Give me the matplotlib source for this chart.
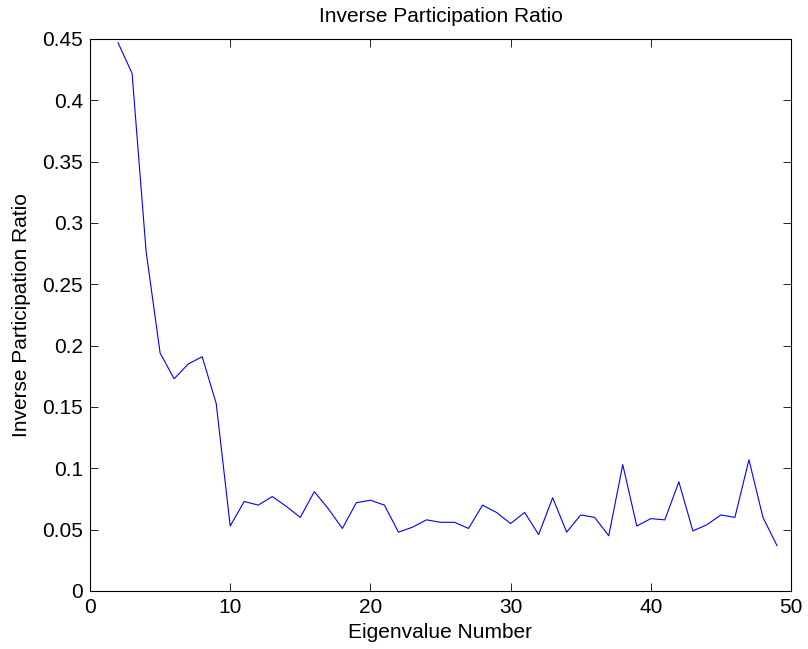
import numpy as np
from matplotlib import pyplot as plt

plt.rcParams['font.family'] = ['Liberation Sans', 'DejaVu Sans']

eig_num = list(range(2, 50))
ipr = [0.447, 0.422, 0.277, 0.194, 0.173, 0.185, 0.191, 0.153, 0.053, 0.073,
       0.070, 0.077, 0.069, 0.060, 0.081, 0.067, 0.051, 0.072, 0.074, 0.070,
       0.048, 0.052, 0.058, 0.056, 0.056, 0.051, 0.070, 0.064, 0.055, 0.064,
       0.046, 0.076, 0.048, 0.062, 0.060, 0.045, 0.103, 0.053, 0.059, 0.058,
       0.089, 0.049, 0.054, 0.062, 0.060, 0.107, 0.060, 0.037]

fig = plt.figure(figsize=(8.08, 6.49), dpi=100)
ax = fig.add_axes([90 / 808, 1 - 591 / 649, 701 / 808, 552 / 649])
ax.plot(eig_num, ipr, color='blue', linewidth=0.8)

ax.set_xlim(0, 50)
ax.set_ylim(0, 0.45)
ax.set_xticks([0, 10, 20, 30, 40, 50])
ax.set_yticks(np.arange(0, 0.451, 0.05))
ax.set_yticklabels(['0', '0.05', '0.1', '0.15', '0.2', '0.25', '0.3', '0.35', '0.4', '0.45'])
ax.tick_params(direction='in', length=6, labelsize=15, top=True, right=True, width=0.6, pad=5)
for s in ax.spines.values():
    s.set_linewidth(0.8)

ax.set_xlabel('Eigenvalue Number', fontsize=15, labelpad=4)
ax.set_ylabel('Inverse Participation Ratio', fontsize=15, labelpad=8)
ax.set_title('Inverse Participation Ratio', fontsize=15, pad=12)

fig.savefig('out.png', dpi=100)
